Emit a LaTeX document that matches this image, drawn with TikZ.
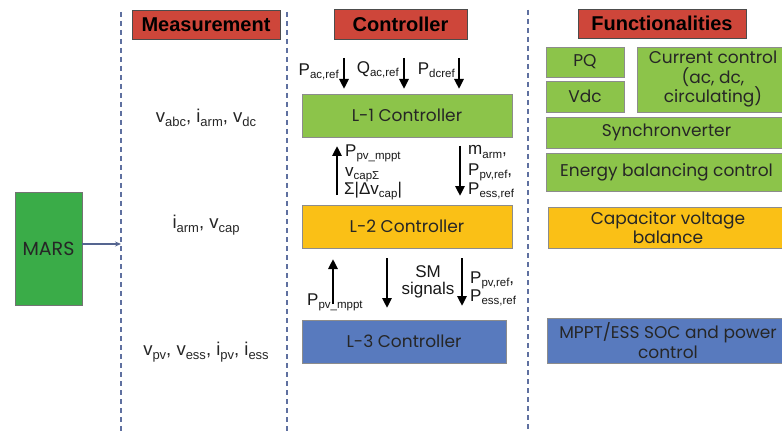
\documentclass[tikz,border=0pt]{standalone}
\usepackage{fontspec}
\setmainfont{Liberation Sans}
\newfontfamily\gothic{Poppins}
\usetikzlibrary{arrows.meta}
\definecolor{hdrred}{RGB}{206,70,58}
\definecolor{lgreen}{RGB}{140,196,74}
\definecolor{mgreen}{RGB}{58,172,72}
\definecolor{myellow}{RGB}{250,192,22}
\definecolor{mblue}{RGB}{88,122,190}
\definecolor{dashc}{RGB}{95,112,160}
\newcommand\sbs[1]{\raisebox{-0.35ex}{\fontsize{11.5}{12}\selectfont #1}}
\newcommand\msb[1]{\raisebox{-0.35ex}{\fontsize{13}{14}\selectfont #1}}
\tikzset{
  hdr/.style={draw=black!70, fill=hdrred, line width=0.8pt, inner sep=0pt,
    font=\fontsize{20}{22}\selectfont\bfseries},
  fbox/.style={draw=black!45, line width=0.6pt, inner sep=0pt, align=center,
    font=\gothic\fontsize{17}{20}\selectfont, text=black!85},
  divider/.style={dashc, line width=1.3pt, dash pattern=on 5pt off 4pt},
  lbl/.style={font=\fontsize{17}{18}\selectfont, inner sep=0pt, text=black!90},
  mlbl/.style={font=\fontsize{18.5}{20}\selectfont, inner sep=0pt, text=black!85},
  sig/.style={-{Triangle[length=10pt,width=9pt]}, line width=2.7pt},
}
\begin{document}
\begin{tikzpicture}[x=1pt,y=-1pt]
\useasboundingbox (0,0) rectangle (782,433);
\clip (0,0) rectangle (782,433);
\fill[white] (0,0) rectangle (782,433);
% dividers
\coordinate (d1t) at (121,12); \coordinate (d1b) at (121,433);
\coordinate (d2t) at (287,12); \coordinate (d2b) at (287,433);
\coordinate (d3t) at (528,10); \coordinate (d3b) at (528,433);
\draw[divider] (d1t) -- (d1b);
\draw[divider] (d2t) -- (d2b);
\draw[divider] (d3t) -- (d3b);
% headers
\node[hdr, minimum width=148pt, minimum height=29pt] (hm) at (206,24.5) {Measurement};
\node[hdr, minimum width=133pt, minimum height=30pt] (hc) at (400.5,24) {Controller};
\node[hdr, minimum width=168pt, minimum height=29pt] (hf) at (662,23.5) {Functionalities};
% MARS
\node[fbox, draw=black!55, fill=mgreen, minimum width=67pt, minimum height=113pt, font=\gothic\fontsize{19}{20}\selectfont] (mars) at (48.5,248.5) {MARS};
\coordinate (marsin) at (121,244);
\draw[dashc!90!black, line width=1.3pt, -{Stealth[length=6pt,width=5pt]}] (mars.east |- marsin) -- (marsin);
% measurement labels
\node[mlbl] (m1) at (206,118) {v\msb{abc}, i\msb{arm}, v\msb{dc}};
\node[mlbl] (m2) at (206,225) {i\msb{arm}, v\msb{cap}};
\node[mlbl] (m3) at (206,352) {v\msb{pv}, v\msb{ess}, i\msb{pv}, i\msb{ess}};
% controllers
\node[fbox, fill=lgreen, minimum width=210pt, minimum height=43pt] (l1) at (407,115.5) {L-1 Controller};
\node[fbox, fill=myellow, minimum width=210pt, minimum height=43pt] (l2) at (407,226.5) {L-2 Controller};
\node[fbox, fill=mblue, minimum width=204pt, minimum height=43pt] (l3) at (404,341.5) {L-3 Controller};
% top references
\coordinate (r1t) at (344,58); \coordinate (r2t) at (404,58); \coordinate (r3t) at (459,58);
\coordinate (r1b) at (344,89); \coordinate (r2b) at (404,89); \coordinate (r3b) at (459,89);
\draw[sig] (r1t) -- (r1b);
\draw[sig] (r2t) -- (r2b);
\draw[sig] (r3t) -- (r3b);
\node[lbl, anchor=east] (pac) at (339,72) {P\sbs{ac,ref}};
\node[lbl, anchor=east] (qac) at (399,70) {Q\sbs{ac,ref}};
\node[lbl, anchor=east] (pdc) at (455,70) {P\sbs{dcref}};
% L1-L2 arrows
\coordinate (u1a) at (337,195); \coordinate (u1b) at (337,146);
\draw[sig] (u1a) -- (u1b);
\coordinate (dn1a) at (460,146); \coordinate (dn1b) at (460,196);
\draw[sig] (dn1a) -- (dn1b);
\node[lbl, anchor=west] (ppv1) at (345,153) {P\sbs{pv\_mppt}};
\node[lbl, anchor=west] (vcs) at (345,175) {v\sbs{capΣ}};
\node[lbl, anchor=west] (sdv) at (344,191) {Σ|Δv\sbs{cap}|};
\node[lbl, anchor=west] (marm) at (468,152) {m\sbs{arm},};
\node[lbl, anchor=west] (ppvr1) at (468,172) {P\sbs{pv,ref},};
\node[lbl, anchor=west] (pessr1) at (468,191) {P\sbs{ess,ref}};
% L2-L3 arrows
\coordinate (u2a) at (333,304); \coordinate (u2b) at (333,259);
\draw[sig] (u2a) -- (u2b);
\coordinate (sma) at (387,258); \coordinate (smb) at (387,308);
\draw[sig] (sma) -- (smb);
\coordinate (dn2a) at (462,258); \coordinate (dn2b) at (462,306);
\draw[sig] (dn2a) -- (dn2b);
\node[lbl, anchor=west] (ppv2) at (307,302) {P\sbs{pv\_mppt}};
\node[lbl, align=center] (smsig) at (428,282) {SM\\[-1pt]signals};
\node[lbl, anchor=west] (ppvr2) at (470,280) {P\sbs{pv,ref},};
\node[lbl, anchor=west] (pessr2) at (470,298) {P\sbs{ess,ref}};
% functionalities
\node[fbox, fill=lgreen, minimum width=78pt, minimum height=30pt] (pq) at (585,62) {PQ};
\node[fbox, fill=lgreen, minimum width=78pt, minimum height=31pt] (vdc) at (585,96.5) {Vdc};
\node[fbox, fill=lgreen, minimum width=152pt, minimum height=65pt, font=\gothic\fontsize{17}{19.5}\selectfont] (cc) at (713,79.5) {Current control\\(ac, dc,\\circulating)};
\node[fbox, fill=lgreen, minimum width=241pt, minimum height=31pt] (syn) at (666.5,132.5) {Synchronverter};
\node[fbox, fill=lgreen, minimum width=241pt, minimum height=38pt] (ebc) at (666.5,172) {Energy balancing control};
\node[fbox, fill=myellow, minimum width=240pt, minimum height=41pt, font=\gothic\fontsize{17}{19.5}\selectfont] (cvb) at (668,227.5) {Capacitor voltage\\balance};
\node[fbox, fill=mblue, minimum width=242pt, minimum height=45pt, font=\gothic\fontsize{17}{19.5}\selectfont] (mppt) at (668,340.5) {MPPT/ESS SOC and power\\control};
\end{tikzpicture}
\end{document}
